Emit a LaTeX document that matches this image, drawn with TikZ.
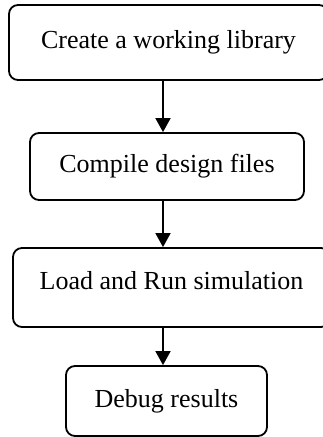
\documentclass[tikz,border=0pt]{standalone}
\usepackage{fontspec}
\setmainfont{Liberation Serif}
\usetikzlibrary{arrows.meta}
\tikzset{
  stepbox/.style={draw, line width=1.8pt, rounded corners=9pt, align=center,
    inner sep=0pt, font=\fontsize{26}{30}\selectfont},
  flow/.style={line width=1.8pt, -{Triangle[length=14pt,width=15pt]}}
}
\begin{document}
\begin{tikzpicture}[x=1pt,y=-1pt]
\useasboundingbox (0,0) rectangle (323,437);
\node[stepbox, minimum width=319pt, minimum height=75pt] (b1) at (168.5,42.5) {\raisebox{4pt}{Create a working library}};
\node[stepbox, minimum width=274pt, minimum height=67pt] (b2) at (167,166.5) {Compile design files};
\node[stepbox, minimum width=317pt, minimum height=79pt] (b3) at (171.5,287.5) {\raisebox{14pt}{Load and Run simulation}};
\node[stepbox, minimum width=201pt, minimum height=70pt] (b4) at (166.5,401) {Debug results};
\coordinate (ax) at (163,0);
\draw[flow] (b1.south -| ax) -- (b2.north -| ax);
\draw[flow] (b2.south -| ax) -- (b3.north -| ax);
\draw[flow] (b3.south -| ax) -- (b4.north -| ax);
\end{tikzpicture}
\end{document}
